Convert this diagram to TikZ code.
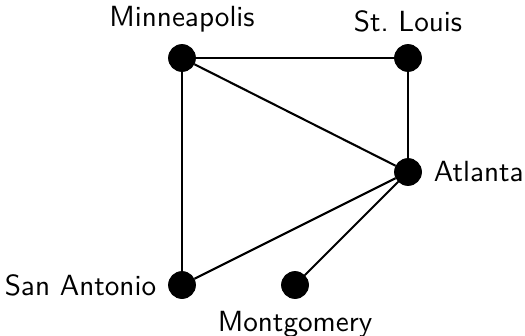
\documentclass[tikz,border=0pt]{standalone}
\usetikzlibrary{positioning}
\begin{document}
\begin{tikzpicture}[x=0.36pt,y=-0.36pt,
  city/.style={circle,fill=black,draw=black,inner sep=0pt,minimum size=9.6pt},
  lbl/.style={font=\sffamily\fontsize{10.5}{13}\selectfont,inner sep=3.33pt},
  road/.style={line width=0.75pt}]
\useasboundingbox (0,0) rectangle (525,335);
\node[city] (m) at (182,58) {};
\node[city] (s) at (408,58) {};
\node[city] (a) at (408,172) {};
\node[city] (sa) at (182,285) {};
\node[city] (mo) at (295,285) {};
\node[lbl,above=0.8pt of m] (mL) {Minneapolis};
\node[lbl,above=0.8pt of s] (sL) {St.\ Louis};
\node[lbl,right=0.8pt of a] (aL) {Atlanta};
\node[lbl,left=0.8pt of sa] (saL) {San Antonio};
\node[lbl,below=0.8pt of mo] (moL) {Montgomery};
\draw[road] (m) -- (s);
\draw[road] (m) -- (a);
\draw[road] (m) -- (sa);
\draw[road] (s) -- (a);
\draw[road] (a) -- (sa);
\draw[road] (a) -- (mo);
\end{tikzpicture}
\end{document}
